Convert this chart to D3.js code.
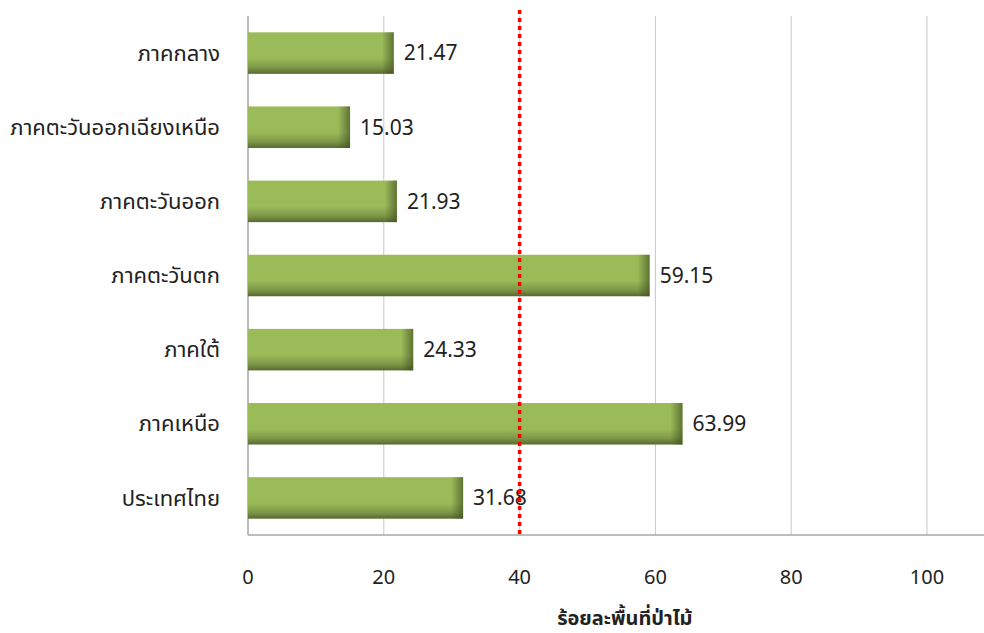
<!DOCTYPE html>
<html>
<head>
<meta charset="utf-8">
<script src="https://cdn.jsdelivr.net/npm/d3@7"></script>
<style>
  body { margin: 0; background: #fff; }
  svg text { font-family: "Noto Sans Thai", "Noto Sans", "DejaVu Sans", sans-serif; fill: #222; }
</style>
</head>
<body>
<svg width="984" height="633"></svg>
<script>
// data
var regions = ["ภาคกลาง", "ภาคตะวันออกเฉียงเหนือ", "ภาคตะวันออก", "ภาคตะวันตก", "ภาคใต้", "ภาคเหนือ", "ประเทศไทย"];
var forestPct = [21.47, 15.03, 21.93, 59.15, 24.33, 63.99, 31.68];
var xTicks = [0, 20, 40, 60, 80, 100];
var targetLine = 40;
var axisTitle = "ร้อยละพื้นที่ป่าไม้";

var margin = {top: 16, left: 248, bottom: 98, right: 0},
    width = 984 - margin.left - margin.right,
    height = 633 - margin.top - margin.bottom;

var svg = d3.select("svg");
var defs = svg.append("defs");

// bar shading
var gv = defs.append("linearGradient").attr("id", "barV")
    .attr("x1", 0).attr("y1", 0).attr("x2", 0).attr("y2", 1);
gv.append("stop").attr("offset", "0%").attr("stop-color", "#9bbb59");
gv.append("stop").attr("offset", "62%").attr("stop-color", "#9bbb59");
gv.append("stop").attr("offset", "85%").attr("stop-color", "#7d9747");
gv.append("stop").attr("offset", "100%").attr("stop-color", "#566a30");

var gh = defs.append("linearGradient").attr("id", "barH")
    .attr("x1", 0).attr("y1", 0).attr("x2", 1).attr("y2", 0);
gh.append("stop").attr("offset", "0%").attr("stop-color", "#3e4d20").attr("stop-opacity", 0);
gh.append("stop").attr("offset", "100%").attr("stop-color", "#3e4d20").attr("stop-opacity", 0.65);

var g = svg.append("g")
    .attr("transform", "translate(" + margin.left + "," + margin.top + ")");

// scales
var x = d3.scaleLinear().domain([0, 100]).range([0, 679]);
var y = d3.scaleBand().domain(regions).range([0, height]).paddingInner(0.44).paddingOuter(0.22);

// gridlines
g.selectAll(".grid").data(xTicks.slice(1)).enter().append("line")
    .attr("x1", function(d) { return x(d); })
    .attr("x2", function(d) { return x(d); })
    .attr("y1", 0).attr("y2", height)
    .style("stroke", "#c8c8c8").style("stroke-width", 1);

// axes lines
g.append("line").attr("x1", 0).attr("x2", width).attr("y1", height).attr("y2", height)
    .style("stroke", "#a6a6a6").style("stroke-width", 1.5);
g.append("line").attr("x1", 0).attr("x2", 0).attr("y1", 0).attr("y2", height)
    .style("stroke", "#a6a6a6").style("stroke-width", 1.5);

// bars
var bars = g.selectAll(".bar").data(forestPct).enter().append("g");
bars.append("rect")
    .attr("x", 0)
    .attr("y", function(d, i) { return y(regions[i]); })
    .attr("width", function(d) { return x(d); })
    .attr("height", y.bandwidth())
    .style("fill", "url(#barV)");
bars.append("rect")
    .attr("x", function(d) { return x(d) - 12; })
    .attr("y", function(d, i) { return y(regions[i]); })
    .attr("width", 12)
    .attr("height", y.bandwidth())
    .style("fill", "url(#barH)");

// value labels
bars.append("text")
    .attr("x", function(d) { return x(d) + 10; })
    .attr("y", function(d, i) { return y(regions[i]) + y.bandwidth() / 2; })
    .attr("dy", "0.35em")
    .style("font-size", "21px")
    .text(function(d) { return d.toFixed(2); });

// red dotted target line
g.append("line")
    .attr("x1", x(targetLine)).attr("x2", x(targetLine))
    .attr("y1", -6).attr("y2", height)
    .style("stroke", "#ff0000").style("stroke-width", 3.5)
    .style("stroke-dasharray", "4,4");

// category labels
g.selectAll(".cat").data(regions).enter().append("text")
    .attr("x", -28)
    .attr("y", function(d) { return y(d) + y.bandwidth() / 2; })
    .attr("dy", "0.35em")
    .attr("text-anchor", "end")
    .style("font-size", "22px")
    .text(function(d) { return d; });

// x tick labels
g.selectAll(".tick").data(xTicks).enter().append("text")
    .attr("x", function(d) { return x(d); })
    .attr("y", height + 42)
    .attr("dy", "0.35em")
    .attr("text-anchor", "middle")
    .style("font-size", "20px")
    .text(function(d) { return d; });

// axis title
g.append("text")
    .attr("x", x(55.5))
    .attr("y", height + 83)
    .attr("dy", "0.35em")
    .attr("text-anchor", "middle")
    .style("font-size", "20px")
    .style("font-weight", "bold")
    .text(axisTitle);
</script>
</body>
</html>
